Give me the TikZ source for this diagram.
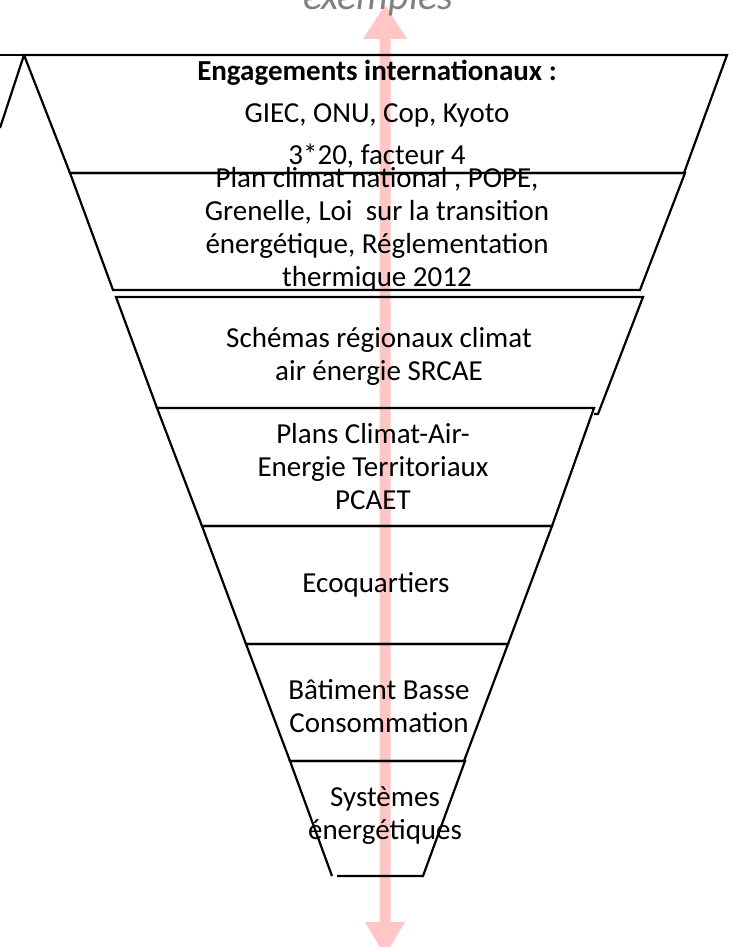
\documentclass[tikz,border=0pt]{standalone}
\usepackage{fontspec}
\setmainfont{Carlito}
\definecolor{arrowpink}{RGB}{255,198,198}
\definecolor{labelgray}{RGB}{128,128,128}
\begin{document}
\begin{tikzpicture}[x=1pt,y=-1pt,
  level/.style={draw=black,line width=2.2pt,line join=miter},
  lbl/.style={align=center,font=\fontsize{29}{33}\selectfont,inner sep=0pt}]
\useasboundingbox (0,0) rectangle (731,947);
\begin{scope}
\clip (0,0) rectangle (731,947);
% double arrow
\fill[arrowpink] (379.5,39) -- (363,39) -- (385,5) -- (407,39) -- (390.5,39)
  -- (390.5,922) -- (405,922) -- (385,956) -- (365,922) -- (379.5,922) -- cycle;
% top label, partly cut off
\node[anchor=base,font=\fontsize{40}{48}\selectfont\itshape,text=labelgray,inner sep=0pt] (ex) at (378,10) {exemples};
% funnel levels
\draw[level] (0,55) -- (727,55);
\draw[level] (24,55) -- (0,128);
\draw[level] (24,55) -- (727,55) -- (684,173) -- (70,173) -- cycle;
\draw[level] (70,173) -- (685,173) -- (640,290) -- (113,290) -- cycle;
\draw[level] (157,408) -- (116,297) -- (643,297) -- (598,414) -- (594,414);
\draw[level] (157,408) -- (594,408) -- (552,526) -- (202,526) -- cycle;
\draw[level] (202,526) -- (552,526) -- (508,644) -- (246,644) -- cycle;
\draw[level] (246,644) -- (508,644) -- (464,761) -- (290,761) -- cycle;
\draw[level] (332,876) -- (290,761) -- (465,761) -- (423,876) -- (337,876);
% labels
\node[lbl] (t1) at (377,114) {\textbf{Engagements internationaux :}\\[9pt] GIEC, ONU, Cop, Kyoto\\[9pt] 3*20, facteur 4};
\node[lbl] (t2) at (377,229) {Plan climat national , POPE,\\ Grenelle, Loi\ \ sur la transition\\ énergétique, Réglementation\\ thermique 2012};
\node[lbl] (t3) at (379,356) {Schémas régionaux climat\\ air énergie SRCAE};
\node[lbl] (t4) at (373,467) {Plans Climat-Air-\\ Energie Territoriaux\\ PCAET};
\node[lbl] (t5) at (376,585) {Ecoquartiers};
\node[lbl] (t6) at (379,706) {Bâtiment Basse\\ Consommation};
\node[lbl] (t7) at (385,816) {Systèmes\\ énergétiques};
\end{scope}
\end{tikzpicture}
\end{document}
